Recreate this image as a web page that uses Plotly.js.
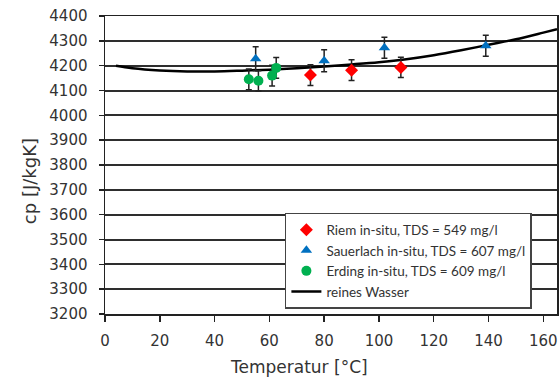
<!DOCTYPE html>
<html>
<head>
<meta charset="utf-8">
<script src="https://cdn.plot.ly/plotly-3.0.1.min.js"></script>
<style>html,body{margin:0;padding:0;background:#fff}#chart{width:560px;height:380px}</style>
</head>
<body>
<div id="chart"></div>
<script>
// Riem in-situ
const riemT = [75, 90, 108];
const riemCp = [4162, 4182, 4193];
const riemErr = [42, 42, 41];
// Sauerlach in-situ
const sauerT = [55, 80, 102, 139];
const sauerCp = [4228, 4220, 4272, 4280];
const sauerErr = [48, 44, 42, 42];
// Erding in-situ
const erdingT = [52.5, 56, 61, 62.5];
const erdingCp = [4145, 4139, 4160, 4191];
const erdingErr = [42, 41, 42, 42];
// reines Wasser
const waterT = [4, 10, 20, 30, 40, 50, 60, 70, 80, 90, 100, 110, 120, 130, 140, 150, 160, 165];
const waterCp = [4200, 4190, 4181, 4177, 4177, 4180, 4184, 4190, 4197, 4205, 4214, 4226, 4242, 4262, 4284, 4306, 4333, 4347];

const xTicks = [0, 20, 40, 60, 80, 100, 120, 140, 160];
const yTicks = [3200, 3300, 3400, 3500, 3600, 3700, 3800, 3900, 4000, 4100, 4200, 4300, 4400];

const errStyle = (arr) => ({type: 'data', array: arr, visible: true, color: '#222', thickness: 1.5, width: 3});

const data = [
  {x: waterT, y: waterCp, mode: 'lines', name: 'reines Wasser', line: {color: '#000', width: 2.5, shape: 'spline'}, legendrank: 4},
  {x: riemT, y: riemCp, mode: 'markers', name: 'Riem in-situ, TDS = 549 mg/l', marker: {symbol: 'diamond', color: '#FF0000', size: 10}, error_y: errStyle(riemErr), legendrank: 1},
  {x: sauerT, y: sauerCp, mode: 'markers', name: 'Sauerlach in-situ, TDS = 607 mg/l', marker: {symbol: 'triangle-up', color: '#0070C0', size: 10}, error_y: errStyle(sauerErr), legendrank: 2},
  {x: erdingT, y: erdingCp, mode: 'markers', name: 'Erding in-situ, TDS = 609 mg/l', marker: {symbol: 'circle', color: '#00B050', size: 10}, error_y: errStyle(erdingErr), legendrank: 3}
];

const tickFont = {family: 'DejaVu Sans', size: 15, color: '#333'};

const layout = {
  width: 560, height: 380,
  margin: {l: 105, r: 3, t: 16, b: 66},
  paper_bgcolor: '#fff', plot_bgcolor: '#fff',
  showlegend: true,
  legend: {
    x: 0.398, y: 0.339, xanchor: 'left', yanchor: 'top',
    bgcolor: '#fff', bordercolor: '#444', borderwidth: 1.5,
    font: {family: 'Lato', size: 13.5, color: '#333'},
    itemwidth: 30
  },
  xaxis: {
    range: [0, 165], tickvals: xTicks, ticktext: xTicks.map(String),
    showgrid: false, zeroline: false,
    showline: true, linecolor: '#222', linewidth: 1.5, mirror: true,
    ticks: 'outside', ticklen: 6, tickwidth: 1.5, tickcolor: '#222',
    tickfont: tickFont, ticklabelstandoff: 6
  },
  yaxis: {
    range: [3200, 4400], tickvals: yTicks, ticktext: yTicks.map(String),
    showgrid: true, gridcolor: '#2e2e2e', gridwidth: 2, zeroline: false,
    showline: true, linecolor: '#222', linewidth: 1.5, mirror: true,
    ticks: 'outside', ticklen: 5, tickwidth: 1.5, tickcolor: '#222',
    tickfont: tickFont, ticklabelstandoff: 8
  },
  annotations: [
    {text: 'Temperatur [°C]', xref: 'paper', yref: 'paper', x: 0.43, y: -0.178, xanchor: 'center', yanchor: 'middle', showarrow: false, font: {family: 'DejaVu Sans', size: 17, color: '#333'}},
    {text: 'cp [J/kgK]', xref: 'paper', yref: 'paper', x: -0.168, y: 0.446, xanchor: 'center', yanchor: 'middle', textangle: -90, showarrow: false, font: {family: 'DejaVu Sans', size: 18, color: '#333'}}
  ]
};

Plotly.newPlot('chart', data, layout, {staticPlot: true, displayModeBar: false});
</script>
</body>
</html>
